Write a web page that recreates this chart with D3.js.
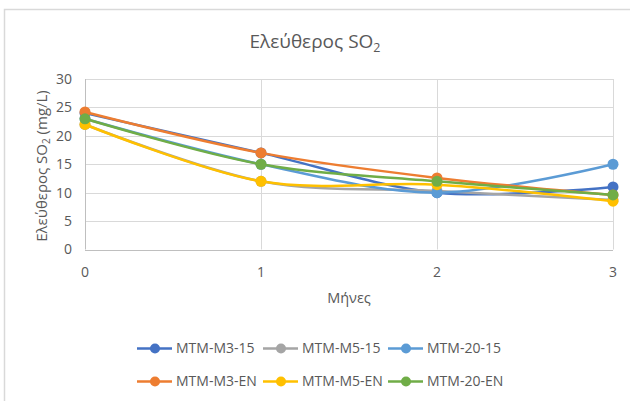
<!DOCTYPE html>
<html><head><meta charset="utf-8">
<script src="https://cdn.jsdelivr.net/npm/d3@7"></script>
<style>body{margin:0;background:#fff}text{font-family:"Open Sans","Liberation Sans",sans-serif}</style>
</head><body><svg id="c" width="630" height="401"></svg>
<script>
const months = [0, 1, 2, 3];
const yTicks = [0, 5, 10, 15, 20, 25, 30];
const seriesNames = ["MTM-M3-15", "MTM-M5-15", "MTM-20-15", "MTM-M3-EN", "MTM-M5-EN", "MTM-20-EN"];
const seriesColors = ["#4472C4", "#A5A5A5", "#5B9BD5", "#ED7D31", "#FFC000", "#70AD47"];
const vM3_15 = [24, 17, 10, 11];
const vM5_15 = [22, 12, 10.3, 8.7];
const v20_15 = [23, 15, 10, 15];
const vM3_EN = [24.2, 17, 12.6, 9.6];
const vM5_EN = [22, 12, 11.4, 8.5];
const v20_EN = [23, 15, 12, 9.6];
const seriesValues = [vM3_15, vM5_15, v20_15, vM3_EN, vM5_EN, v20_EN];

const svg = d3.select("#c");
const x = d3.scaleLinear().domain([0, 3]).range([85, 613]);
const y = d3.scaleLinear().domain([0, 30]).range([249.5, 79]);
const txt = "#595959";

svg.append("rect").attr("x", 4.5).attr("y", 9.5).attr("width", 640).attr("height", 400)
  .attr("fill", "#fff").attr("stroke", "#D9D9D9").attr("stroke-width", 1.5);

// gridlines
svg.append("g").selectAll("line").data(yTicks.slice(1)).join("line")
  .attr("x1", x(0)).attr("x2", x(3)).attr("y1", d => Math.round(y(d)) + 0.5).attr("y2", d => Math.round(y(d)) + 0.5)
  .attr("stroke", "#D9D9D9").attr("stroke-width", 1);
svg.append("g").selectAll("line").data(months.slice(1)).join("line")
  .attr("x1", d => Math.round(x(d)) + 0.5).attr("x2", d => Math.round(x(d)) + 0.5).attr("y1", y(30)).attr("y2", y(0))
  .attr("stroke", "#D9D9D9").attr("stroke-width", 1);
// axes lines
svg.append("line").attr("x1", x(0)).attr("x2", x(3)).attr("y1", Math.round(y(0)) + 0.5).attr("y2", Math.round(y(0)) + 0.5).attr("stroke", "#BFBFBF");
svg.append("line").attr("x1", Math.round(x(0)) + 0.5).attr("x2", Math.round(x(0)) + 0.5).attr("y1", y(30)).attr("y2", y(0)).attr("stroke", "#BFBFBF");

// y tick labels
svg.append("g").selectAll("text").data(yTicks).join("text")
  .attr("x", 72).attr("y", d => y(d)).attr("dy", "0.35em").attr("text-anchor", "end")
  .attr("font-size", 14).attr("fill", txt).text(d => d);
// x tick labels
svg.append("g").selectAll("text").data(months).join("text")
  .attr("x", d => x(d)).attr("y", 272).attr("dy", "0.35em").attr("text-anchor", "middle")
  .attr("font-size", 14).attr("fill", txt).text(d => d);

// title
const t = svg.append("text").attr("x", 315).attr("y", 48).attr("text-anchor", "middle")
  .attr("font-size", 19).attr("fill", txt);
t.append("tspan").text("Ελεύθερος SO");
t.append("tspan").attr("font-size", 12.5).attr("dy", 4).text("2");

// axis titles
svg.append("text").attr("x", 349).attr("y", 298).attr("dy", "0.35em").attr("text-anchor", "middle")
  .attr("font-size", 14.5).attr("fill", txt).text("Μήνες");
const yt = svg.append("text").attr("transform", "translate(47,166) rotate(-90)").attr("text-anchor", "middle")
  .attr("font-size", 15).attr("fill", txt);
yt.append("tspan").text("Ελεύθερος SO");
yt.append("tspan").attr("font-size", 10).attr("dy", 3).text("2");
yt.append("tspan").attr("dy", -3).text(" (mg/L)");

// lines
const line = d3.line().x((d, i) => x(months[i])).y(d => y(d)).curve(d3.curveCardinal.tension(0));
seriesValues.forEach((vals, si) => {
  const g = svg.append("g");
  g.append("path").attr("d", line(vals)).attr("fill", "none").attr("stroke", seriesColors[si])
    .attr("stroke-width", 2.5).attr("stroke-linejoin", "round").attr("stroke-linecap", "round");
  g.selectAll("circle").data(vals).join("circle")
    .attr("cx", (d, i) => x(months[i])).attr("cy", d => y(d)).attr("r", 5.5).attr("fill", seriesColors[si]);
});

// legend
const legX = [137, 263, 388];
const legY = [348.5, 381.5];
seriesNames.forEach((name, i) => {
  const lx = legX[i % 3], ly = legY[Math.floor(i / 3)];
  svg.append("line").attr("x1", lx).attr("x2", lx + 35).attr("y1", ly).attr("y2", ly)
    .attr("stroke", seriesColors[i]).attr("stroke-width", 2.5);
  svg.append("circle").attr("cx", lx + 18).attr("cy", ly).attr("r", 5).attr("fill", seriesColors[i]);
  svg.append("text").attr("x", lx + 39).attr("y", ly).attr("dy", "0.35em").attr("font-size", 14)
    .attr("fill", txt).text(name);
});
</script></body></html>
